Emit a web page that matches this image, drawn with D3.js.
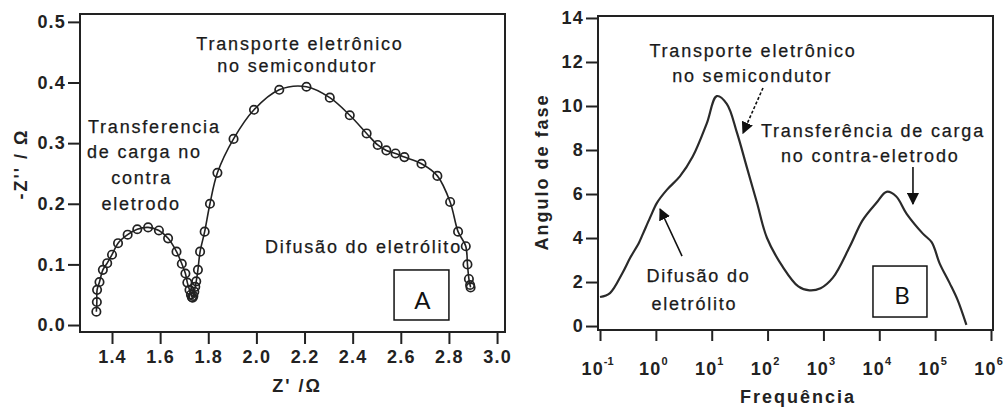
<!DOCTYPE html>
<html>
<head>
<meta charset="utf-8">
<script src="https://cdn.jsdelivr.net/npm/d3@7"></script>
<style>
  html, body { margin: 0; padding: 0; background: #fff; }
  svg { display: block; }
  .tick text { font-family: "Liberation Sans", Arial, sans-serif; font-weight: bold; font-size: 18px; fill: #222; letter-spacing: 1.2px; }
  .ann { font-family: "Liberation Sans", Arial, sans-serif; font-size: 18px; fill: #1a1a1a; stroke: #1a1a1a; stroke-width: 0.25px; letter-spacing: 1.8px; }
  .title { font-family: "Liberation Sans", Arial, sans-serif; font-weight: bold; font-size: 18px; fill: #222; letter-spacing: 2px; }
  .boxlbl { font-family: Lato, "Open Sans", sans-serif; font-size: 24px; fill: #111; }
</style>
</head>
<body>
<svg id="chart" width="1006" height="408"></svg>
<script>
// Panel A: Nyquist plot (Z' vs -Z'')
const nyqZre = [1.335, 1.337, 1.338, 1.348, 1.362, 1.380, 1.400, 1.425, 1.465, 1.505,
                1.550, 1.595, 1.633, 1.668, 1.690, 1.705, 1.713, 1.722, 1.728, 1.732,
                1.735, 1.738, 1.742, 1.746, 1.750, 1.757, 1.766, 1.785, 1.807, 1.838,
                1.905, 1.990, 2.095, 2.208, 2.305, 2.388, 2.458, 2.504, 2.540, 2.578,
                2.615, 2.686, 2.752, 2.805, 2.838, 2.870, 2.877, 2.883, 2.888, 2.890];
const nyqZim = [0.022, 0.038, 0.058, 0.071, 0.091, 0.102, 0.116, 0.135, 0.149, 0.158,
                0.161, 0.156, 0.143, 0.121, 0.101, 0.085, 0.070, 0.058, 0.050, 0.046,
                0.045, 0.048, 0.055, 0.063, 0.072, 0.091, 0.121, 0.154, 0.200, 0.251,
                0.307, 0.355, 0.388, 0.393, 0.375, 0.346, 0.316, 0.297, 0.288, 0.283,
                0.277, 0.266, 0.246, 0.203, 0.154, 0.130, 0.100, 0.076, 0.066, 0.062];
const nyqXTicks = [1.4, 1.6, 1.8, 2.0, 2.2, 2.4, 2.6, 2.8, 3.0];
const nyqYTicks = [0.0, 0.1, 0.2, 0.3, 0.4, 0.5];

// Panel B: Bode phase plot
const bodeFreq = [0.1, 0.151, 0.251, 0.347, 0.501, 0.589, 0.794, 1.047, 1.585, 2.69,
                  4.57, 8.13, 12.3, 18.6, 28.2, 42.7, 64.6, 97.7, 186, 355,
                  562, 891, 1479, 2951, 5012, 8913, 13490, 19953, 30903, 60256,
                  87096, 120226, 181970, 251189, 363078];
const bodePhase = [1.32, 1.5, 2.4, 3.1, 3.8, 4.2, 4.95, 5.6, 6.2, 6.8,
                   7.7, 9.2, 10.45, 10.1, 8.8, 7.2, 5.6, 4.0, 2.7, 1.8,
                   1.62, 1.72, 2.2, 3.6, 4.8, 5.6, 6.1, 5.9, 5.1, 4.2,
                   3.8, 2.85, 1.95, 1.2, 0.05];
const bodeXExp = [-1, 0, 1, 2, 3, 4, 5, 6];
const bodeYTicks = [0, 2, 4, 6, 8, 10, 12, 14];

const svg = d3.select("#chart");
const ink = "#222";

// ---------- Panel A ----------
const xA = d3.scaleLinear().domain([1.267, 3.033]).range([80, 505]);
const yA = d3.scaleLinear().domain([-0.0115, 0.513]).range([332, 14]);
const gA = svg.append("g");

gA.append("g").attr("transform", "translate(0,332)")
  .call(d3.axisBottom(xA).tickValues(nyqXTicks).tickFormat(d3.format(".1f")).tickSize(12).tickPadding(6))
  .call(g => g.select(".domain").remove());
gA.append("g").attr("transform", "translate(80,0)")
  .call(d3.axisLeft(yA).tickValues(nyqYTicks).tickFormat(d3.format(".1f")).tickSize(12).tickPadding(2))
  .call(g => g.select(".domain").remove());
gA.selectAll(".tick line").attr("stroke", ink).attr("stroke-width", 2);

gA.append("rect").attr("x", 80).attr("y", 14).attr("width", 425).attr("height", 318)
  .attr("fill", "none").attr("stroke", ink).attr("stroke-width", 2);

const nyq = nyqZre.map((v, i) => [v, nyqZim[i]]);
gA.append("path").datum(nyq)
  .attr("d", d3.line().x(d => xA(d[0])).y(d => yA(d[1])).curve(d3.curveCatmullRom))
  .attr("fill", "none").attr("stroke", ink).attr("stroke-width", 1.6);
gA.selectAll("circle").data(nyq).join("circle")
  .attr("cx", d => xA(d[0])).attr("cy", d => yA(d[1])).attr("r", 4.2)
  .attr("fill", "none").attr("stroke", ink).attr("stroke-width", 1.7);

// annotations A
const annA = [
  { t: "Transporte eletrônico", x: 2.181, y: 0.454, a: "middle" },
  { t: "no semicondutor", x: 2.170, y: 0.4175, a: "middle" },
  { t: "Transferencia", x: 1.300, y: 0.317, a: "start" },
  { t: "de carga no", x: 1.296, y: 0.2756, a: "start" },
  { t: "contra", x: 1.523, y: 0.2327, a: "middle" },
  { t: "eletrodo", x: 1.521, y: 0.1898, a: "middle" },
  { t: "Difusão do eletrólito", x: 2.036, y: 0.1188, a: "start" }
];
gA.selectAll("text.ann").data(annA).join("text").attr("class", "ann")
  .attr("x", d => xA(d.x)).attr("y", d => yA(d.y)).attr("text-anchor", d => d.a).text(d => d.t);

gA.append("rect").attr("x", xA(2.572)).attr("y", yA(0.0908))
  .attr("width", xA(2.80) - xA(2.572)).attr("height", yA(0.0083) - yA(0.0908))
  .attr("fill", "#fff").attr("stroke", "#111").attr("stroke-width", 1.5);
gA.append("text").attr("class", "boxlbl").attr("x", (xA(2.572) + xA(2.80)) / 2 + 1).attr("y", 309)
  .attr("text-anchor", "middle").text("A");

gA.append("text").attr("class", "title").attr("x", 297).attr("y", 392).attr("text-anchor", "middle").text("Z' /Ω");
gA.append("text").attr("class", "title").attr("transform", "translate(27,164) rotate(-90)")
  .attr("text-anchor", "middle").text("-Z'' / Ω");

// ---------- Panel B ----------
const xB = d3.scaleLog().domain([Math.pow(10, -1.036), Math.pow(10, 6.036)]).range([598, 993]);
const yB = d3.scaleLinear().domain([-0.18, 14.09]).range([330, 16]);
const gB = svg.append("g");

const xAxisB = gB.append("g").attr("transform", "translate(0,330)")
  .call(d3.axisBottom(xB).tickValues(bodeXExp.map(e => Math.pow(10, e))).tickFormat("").tickSize(11))
  .call(g => g.select(".domain").remove());
xAxisB.selectAll(".tick").data(bodeXExp).append("text")
  .attr("y", 45).attr("x", -3).attr("text-anchor", "middle")
  .call(t => t.append("tspan").text("10"))
  .call(t => t.append("tspan").attr("dy", -10).attr("font-size", "11px").attr("letter-spacing", "0px").text(d => d < 0 ? "-" + Math.abs(d) : d));

gB.append("g").attr("transform", "translate(598,0)")
  .call(d3.axisLeft(yB).tickValues(bodeYTicks).tickSize(12).tickPadding(2))
  .call(g => g.select(".domain").remove());
gB.selectAll(".tick line").attr("stroke", ink).attr("stroke-width", 2);

gB.append("rect").attr("x", 598).attr("y", 16).attr("width", 395).attr("height", 314)
  .attr("fill", "none").attr("stroke", ink).attr("stroke-width", 2);

const bode = bodeFreq.map((f, i) => [f, bodePhase[i]]);
gB.append("path").datum(bode)
  .attr("d", d3.line().x(d => xB(d[0])).y(d => yB(d[1])).curve(d3.curveCatmullRom))
  .attr("fill", "none").attr("stroke", "#2a2a2a").attr("stroke-width", 2.2);

// arrows
const defs = svg.append("defs");
defs.append("marker").attr("id", "head").attr("viewBox", "0 0 10 10")
  .attr("refX", 9).attr("refY", 5).attr("markerWidth", 12).attr("markerHeight", 12)
  .attr("markerUnits", "userSpaceOnUse").attr("orient", "auto")
  .append("path").attr("d", "M0,0 L10,5 L0,10 Z").attr("fill", "#111");

const arrowsB = [
  { f0: 82.8, v0: 10.82, f1: 36.3, v1: 8.77, dash: "3,2" },
  { f0: 40100, v0: 7.23, f1: 40100, v1: 5.55, dash: null },
  { f0: 2.94, v0: 3.18, f1: 1.19, v1: 5.32, dash: null }
];
gB.selectAll("line.arrow").data(arrowsB).join("line").attr("class", "arrow")
  .attr("x1", d => xB(d.f0)).attr("y1", d => yB(d.v0))
  .attr("x2", d => xB(d.f1)).attr("y2", d => yB(d.v1))
  .attr("stroke", "#111").attr("stroke-width", 1.6)
  .attr("stroke-dasharray", d => d.dash).attr("marker-end", "url(#head)");

const annB = [
  { t: "Transporte eletrônico", f: 55, v: 12.23 },
  { t: "no semicondutor", f: 53, v: 11.09 },
  { t: "Transferência de carga", f: 7710, v: 8.59 },
  { t: "no contra-eletrodo", f: 6900, v: 7.45 },
  { t: "Difusão do", f: 5.8, v: 2.0 },
  { t: "eletrólito", f: 4.9, v: 0.727 }
];
gB.selectAll("text.ann").data(annB).join("text").attr("class", "ann")
  .attr("x", d => xB(d.f)).attr("y", d => yB(d.v)).attr("text-anchor", "middle").text(d => d.t);

gB.append("rect").attr("x", xB(7710)).attr("y", yB(2.727))
  .attr("width", xB(71400) - xB(7710)).attr("height", yB(0.41) - yB(2.727))
  .attr("fill", "#fff").attr("stroke", "#111").attr("stroke-width", 1.5);
gB.append("text").attr("class", "boxlbl").attr("x", (xB(7710) + xB(71400)) / 2 + 2).attr("y", 304)
  .attr("text-anchor", "middle").text("B");

gB.append("text").attr("class", "title").attr("x", 798).attr("y", 403).attr("text-anchor", "middle").text("Frequência");
gB.append("text").attr("class", "title").attr("transform", "translate(548,172) rotate(-90)")
  .attr("text-anchor", "middle").text("Angulo de fase");
</script>
</body>
</html>
